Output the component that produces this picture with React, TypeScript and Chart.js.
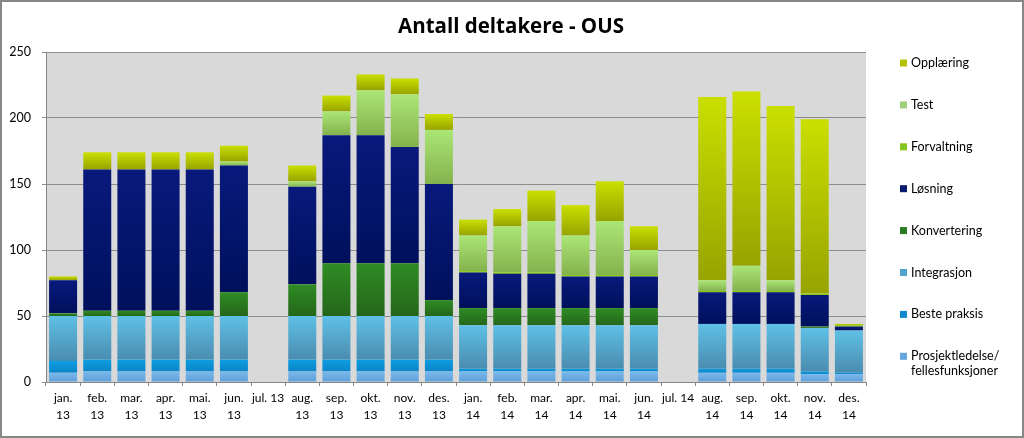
import React, { useEffect, useRef } from "react";
import { Chart, registerables } from "chart.js";

Chart.register(...registerables);

const labels: (string | string[])[] = [
  ["jan.", "13"], ["feb.", "13"], ["mar.", "13"], ["apr.", "13"], ["mai.", "13"], ["jun.", "13"], ["jul. 13"],
  ["aug.", "13"], ["sep.", "13"], ["okt.", "13"], ["nov.", "13"], ["des.", "13"],
  ["jan.", "14"], ["feb.", "14"], ["mar.", "14"], ["apr.", "14"], ["mai.", "14"], ["jun.", "14"], ["jul. 14"],
  ["aug.", "14"], ["sep.", "14"], ["okt.", "14"], ["nov.", "14"], ["des.", "14"],
];

const prosjekt = [7, 8, 8, 8, 8, 8, 0, 8, 8, 8, 8, 8, 8, 8, 8, 8, 8, 8, 0, 7, 7, 7, 6, 6];
const beste = [9, 9, 9, 9, 9, 9, 0, 9, 9, 9, 9, 9, 2, 2, 2, 2, 2, 2, 0, 3, 3, 3, 2, 1];
const integrasjon = [34, 33, 33, 33, 33, 33, 0, 33, 33, 33, 33, 33, 33, 33, 33, 33, 33, 33, 0, 34, 34, 34, 33, 32];
const konvertering = [2, 4, 4, 4, 4, 18, 0, 24, 40, 40, 40, 12, 13, 13, 13, 13, 13, 13, 0, 0, 0, 0, 1, 0];
const losning = [25, 107, 107, 107, 107, 96, 0, 74, 97, 97, 88, 88, 27, 26, 26, 24, 24, 24, 0, 24, 24, 24, 24, 3];
const forvaltning = [0, 0, 0, 0, 0, 0, 0, 0, 0, 0, 0, 0, 1, 1, 1, 1, 1, 1, 0, 1, 1, 1, 1, 1];
const test = [0, 0, 0, 0, 0, 3, 0, 4, 18, 34, 40, 41, 27, 35, 39, 30, 41, 19, 0, 8, 19, 8, 0, 0];
const opplaering = [3, 13, 13, 13, 13, 12, 0, 12, 12, 12, 12, 12, 12, 13, 23, 23, 30, 18, 0, 139, 132, 132, 132, 1];

const yTicks = [0, 50, 100, 150, 200, 250];
const titleText = "Antall deltakere - OUS";

const seriesNames = [
  "Prosjektledelse/\nfellesfunksjoner",
  "Beste praksis",
  "Integrasjon",
  "Konvertering",
  "Løsning",
  "Forvaltning",
  "Test",
  "Opplæring",
];
const seriesData = [prosjekt, beste, integrasjon, konvertering, losning, forvaltning, test, opplaering];
const topColors = ["#7ab9ec", "#0e9ee2", "#5fc0e6", "#2f8c24", "#08197c", "#8fd400", "#abe676", "#cadf00"];
const bottomColors = ["#5e9fd8", "#0b84c6", "#4a8caf", "#24661a", "#00105c", "#7cb800", "#84b24e", "#97a300"];
const swatchColors = ["#64a6de", "#0f88cc", "#52a4d0", "#2a7a22", "#0a1a6e", "#84c41e", "#9ed07c", "#b3c300"];

const FONT = "Lato, 'Liberation Sans', sans-serif";

function makeGradient(di: number) {
  return (ctx: any) => {
    const chart = ctx.chart;
    const y = chart.scales && chart.scales.y;
    if (ctx.type !== "data" || !y || !chart.chartArea) return topColors[di];
    const i = ctx.dataIndex;
    let start = 0;
    for (let k = 0; k < di; k++) start += seriesData[k][i];
    const end = start + seriesData[di][i];
    const p0 = y.getPixelForValue(start);
    const p1 = y.getPixelForValue(end);
    if (!isFinite(p0) || !isFinite(p1) || p0 === p1) return topColors[di];
    const g = chart.ctx.createLinearGradient(0, p1, 0, p0);
    g.addColorStop(0, topColors[di]);
    g.addColorStop(1, bottomColors[di]);
    return g;
  };
}

const bgPlugin = {
  id: "bgPlugin",
  beforeDraw(chart: any) {
    const { ctx, chartArea } = chart;
    ctx.save();
    ctx.fillStyle = "#ffffff";
    ctx.fillRect(0, 0, chart.width, chart.height);
    ctx.fillStyle = "#d9d9d9";
    ctx.fillRect(chartArea.left, chartArea.top, chartArea.right - chartArea.left, chartArea.bottom - chartArea.top);
    ctx.restore();
  },
  afterDraw(chart: any) {
    const { ctx } = chart;
    ctx.save();
    ctx.strokeStyle = "#868686";
    ctx.lineWidth = 2;
    ctx.strokeRect(1, 1, chart.width - 2, chart.height - 2);
    // title
    ctx.fillStyle = "#000000";
    ctx.font = `bold 20.5px 'Open Sans', ${FONT}`;
    ctx.textAlign = "center";
    ctx.textBaseline = "middle";
    ctx.fillText(titleText, 511, 27);
    // legend
    const x0 = 900;
    const startY = 63;
    const step = 41.9;
    ctx.font = `12.5px ${FONT}`;
    ctx.textBaseline = "middle";
    ctx.textAlign = "left";
    for (let j = 0; j < seriesNames.length; j++) {
      const di = seriesNames.length - 1 - j;
      const cy = startY + j * step;
      ctx.fillStyle = swatchColors[di];
      ctx.fillRect(x0, cy - 3.5, 7, 7);
      ctx.fillStyle = "#000000";
      const lines = seriesNames[di].split("\n");
      lines.forEach((ln, li) => ctx.fillText(ln, x0 + 11, cy + li * 14.5));
    }
    ctx.restore();
  },
};

export default function App() {
  const ref = useRef<HTMLCanvasElement | null>(null);
  useEffect(() => {
    document.body.style.margin = "0";
    if (!ref.current) return;
    const chart = new Chart(ref.current, {
      type: "bar",
      data: {
        labels,
        datasets: seriesData.map((d, di) => ({
          label: seriesNames[di],
          data: d,
          backgroundColor: makeGradient(di),
          borderWidth: 0,
          barPercentage: 0.82,
          categoryPercentage: 1,
        })),
      },
      options: {
        animation: false,
        responsive: false,
        layout: { padding: { left: 0, right: 158, top: 52, bottom: 0 } },
        plugins: {
          legend: { display: false },
          tooltip: { enabled: false },
          title: { display: false },
        },
        scales: {
          x: {
            stacked: true,
            afterFit: (s: any) => { s.height = 56; },
            grid: { display: true, drawOnChartArea: false, drawTicks: true, tickLength: 4, color: "#868686", offset: true },
            border: { display: true, color: "#868686", width: 1 },
            ticks: {
              autoSkip: false,
              maxRotation: 0,
              minRotation: 0,
              padding: 4,
              color: "#000000",
              font: { family: FONT, size: 12, lineHeight: 1.4 },
            },
          },
          y: {
            stacked: true,
            min: 0,
            max: 250,
            afterFit: (s: any) => { s.width = 46; },
            afterBuildTicks: (s: any) => { s.ticks = yTicks.map((v) => ({ value: v })); },
            grid: { color: "#8c8c8c", drawTicks: true, tickLength: 4 },
            border: { display: true, color: "#868686", width: 1 },
            ticks: {
              padding: 11,
              color: "#000000",
              font: { family: FONT, size: 12.5 },
            },
          },
        },
      },
      plugins: [bgPlugin],
    });
    return () => chart.destroy();
  }, []);
  return (
    <div style={{ width: 1024, height: 438 }}>
      <canvas ref={ref} width={1024} height={438} />
    </div>
  );
}
